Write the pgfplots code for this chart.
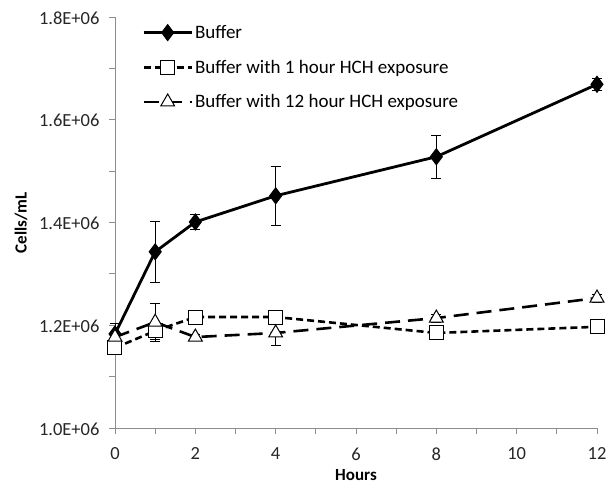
\documentclass[border=0pt]{standalone}
\usepackage{fontspec}
\setmainfont{Carlito}
\usepackage{pgfplots}
\pgfplotsset{compat=1.18}
\begin{document}
\begin{tikzpicture}
\begin{axis}[
  scale only axis,
  width=482pt, height=411pt,
  xmin=0, xmax=12, ymin=1000000, ymax=1800000,
  axis x line*=bottom, axis y line*=left,
  axis line style={black!45, line width=0.8pt, -},
  xtick={0,2,...,12}, minor xtick={1,3,...,11},
  ytick={1000000,1200000,1400000,1600000,1800000},
  minor ytick={1100000,1300000,1500000,1700000},
  yticklabels={1.0E+06,1.2E+06,1.4E+06,1.6E+06,1.8E+06},
  scaled y ticks=false,
  tick align=outside,
  major tick length=6pt, minor tick length=6pt,
  tick style={black!45, line width=0.8pt},
  every tick label/.append style={font=\fontsize{18.5}{22}\selectfont, text=black!85},
  xticklabel style={yshift=-10pt},
  yticklabel style={xshift=-6pt, yshift=-1pt},
  /pgf/number format/assume math mode=true,
  xlabel={\textbf{Hours}}, ylabel={\textbf{Cells/mL}},
  label style={font=\fontsize{17}{20}\selectfont},
  xlabel style={at={([yshift=-47pt]axis description cs:0.5,0)}, anchor=center},
  ylabel style={at={([xshift=-94pt]axis description cs:0,0.5)}, anchor=center},
  clip=false,
  legend style={draw=none, fill=none, at={(0.05,0.99)}, anchor=north west,
    font=\fontsize{19}{23}\selectfont, row sep=16pt, cells={anchor=west}},
  legend image code/.code={\draw[mark repeat=2, mark phase=2] plot coordinates {(0pt,0pt) (24pt,0pt) (48pt,0pt)};},
]
\addplot[black, line width=2.8pt, mark=diamond*, mark size=8pt, mark options={solid, fill=black, line width=1pt},
  error bars/.cd, y dir=both, y explicit,
  error bar style={line width=0.7pt, solid, black},
  error mark options={rotate=90, mark size=5pt, line width=0.7pt, black}]
coordinates {
  (0,1183000) +- (0,20000)
  (1,1343000) +- (0,60000)
  (2,1401000) +- (0,14000)
  (4,1452000) +- (0,58000)
  (8,1528000) +- (0,42000)
  (12,1669000) +- (0,12000)
};
\addlegendentry{Buffer}
\addplot[black, line width=2.6pt, dash pattern=on 7pt off 4pt, mark=square*, mark size=7pt,
  mark options={solid, fill=white, line width=1pt},
  error bars/.cd, y dir=both, y explicit,
  error bar style={line width=0.7pt, solid, black},
  error mark options={rotate=90, mark size=5pt, line width=0.7pt, black}]
coordinates {
  (0,1156000) +- (0,8000)
  (1,1189000) +- (0,16000)
  (2,1216000) +- (0,6000)
  (4,1216000) +- (0,6000)
  (8,1185000) +- (0,6000)
  (12,1197000) +- (0,5000)
};
\addlegendentry{Buffer with 1 hour HCH exposure}
\addplot[black, line width=2.6pt, dash pattern=on 15pt off 8pt, mark=triangle*, mark size=8pt,
  mark options={solid, fill=white, line width=1pt},
  error bars/.cd, y dir=both, y explicit,
  error bar style={line width=0.7pt, solid, black},
  error mark options={rotate=90, mark size=5pt, line width=0.7pt, black}]
coordinates {
  (0,1177000) +- (0,10000)
  (1,1206000) +- (0,37000)
  (2,1177000) +- (0,6000)
  (4,1185000) +- (0,25000)
  (8,1214000) +- (0,8000)
  (12,1253000) +- (0,8000)
};
\addlegendentry{Buffer with 12 hour HCH exposure}
\coordinate (sw) at (rel axis cs:0,0);
\coordinate (ne) at (rel axis cs:1,1);
\end{axis}
\pgfresetboundingbox
\path[use as bounding box] ([xshift=-115pt,yshift=-57pt]sw) rectangle ([xshift=15pt,yshift=17pt]ne);
\end{tikzpicture}
\end{document}
